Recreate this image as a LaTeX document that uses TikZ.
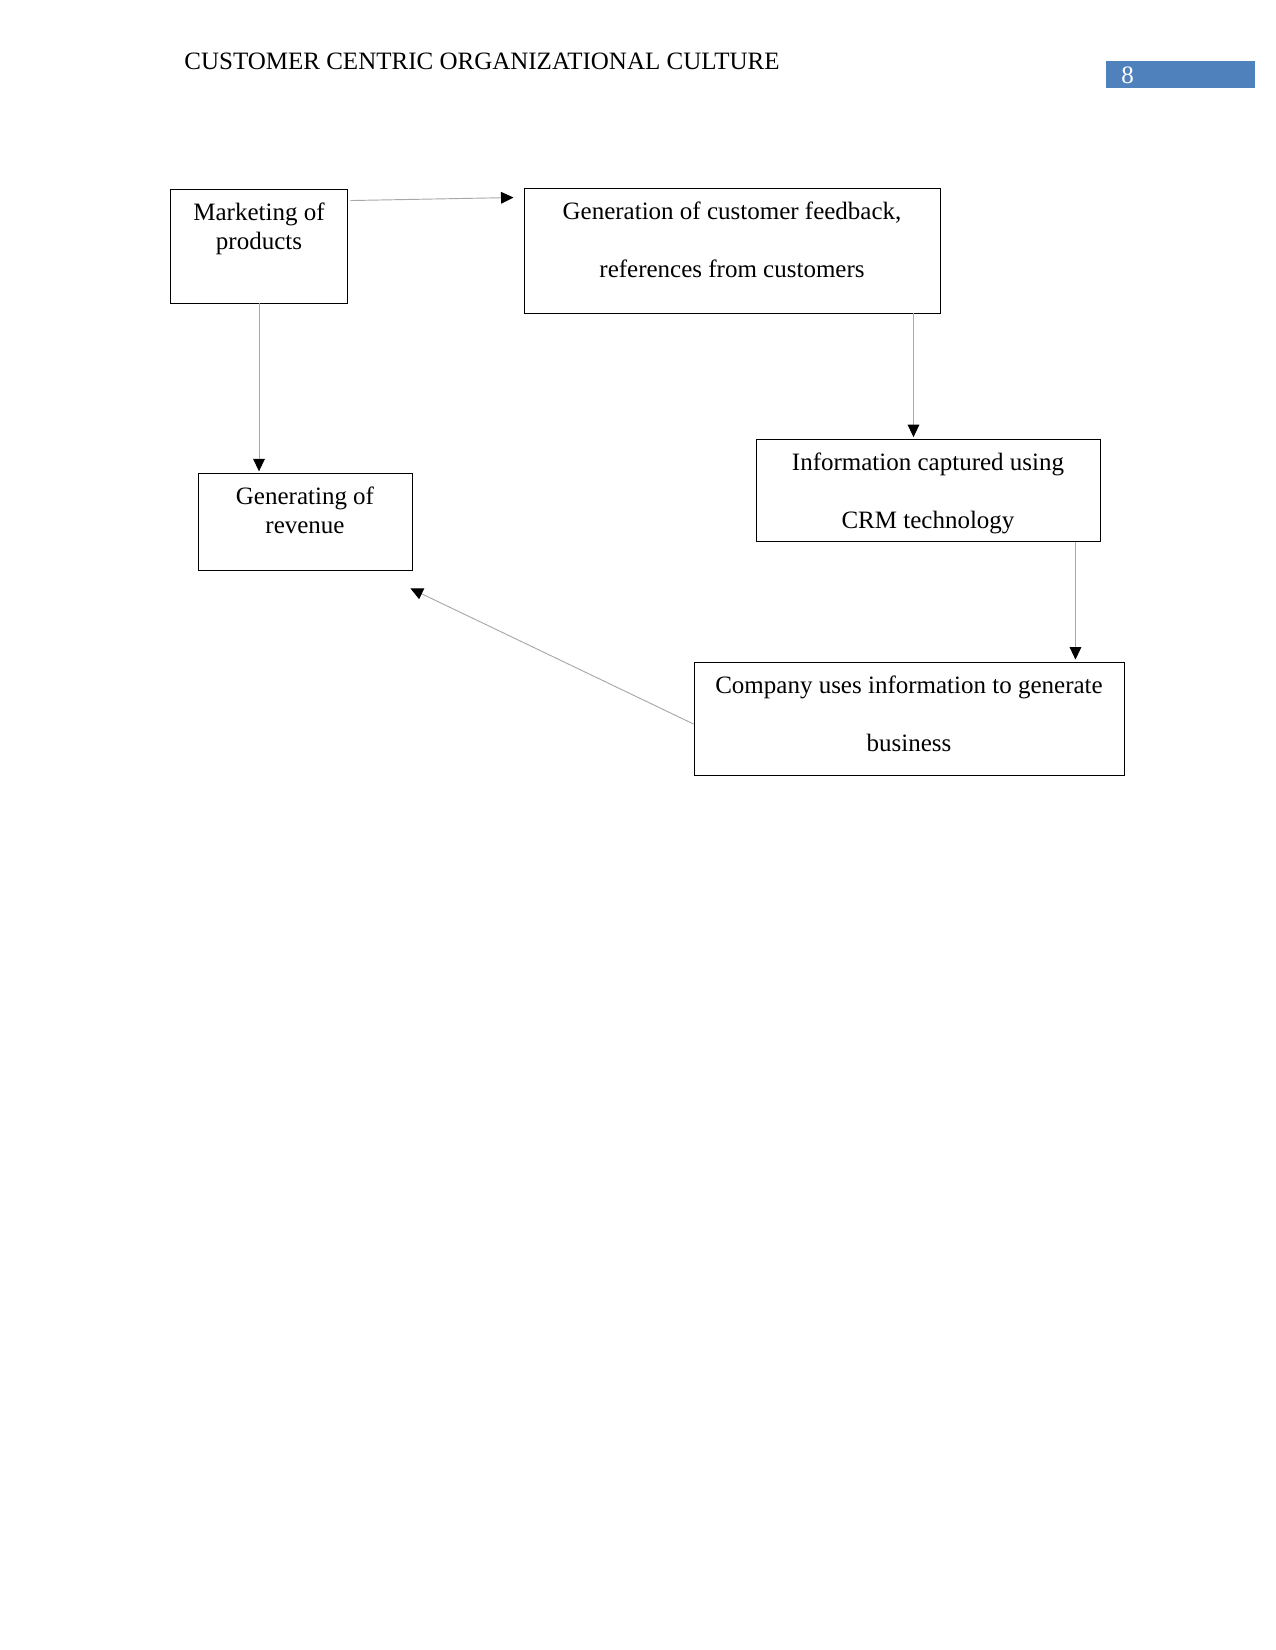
\documentclass[tikz,border=0pt]{standalone}
\usepackage{fontspec}
\setmainfont{Liberation Serif}
\usetikzlibrary{arrows.meta,positioning,calc}
\definecolor{cpage}{HTML}{4F81BD}
\definecolor{cline}{HTML}{A8A8A8}
\tikzset{
  ccbox/.style={rectangle, draw=black, line width=0.45pt, inner sep=0pt},
  cctxt/.style={align=flush center, inner sep=0pt, anchor=base},
  ccfl/.style={-{Triangle[length=6pt,width=5.6pt,color=black]}, draw=cline, line width=0.45pt},
  cchead/.style={anchor=base west, inner sep=0pt}
}

\begin{document}
\begin{tikzpicture}[x=0.48pt, y=-0.48pt, font=\fontsize{12pt}{13.8pt}\selectfont]
\useasboundingbox (0,0) rectangle (1275,1650);

% header
\node[cchead] (title) at (184,70) {CUSTOMER CENTRIC ORGANIZATIONAL CULTURE};
\node[rectangle, fill=cpage, minimum width=71.5pt, minimum height=13pt,
      inner sep=0pt, anchor=north west] (pgbox) at (1106,61) {};
\node[cchead, text=white] (pgnum) at (1121,84) {8};

% boxes
\node[ccbox, minimum width=85.4pt, minimum height=54.7pt] (mkt) at (259,246) {};
\node[ccbox, minimum width=199.7pt, minimum height=60pt] (gen) at (732,250.5) {};
\node[ccbox, minimum width=102.7pt, minimum height=47pt] (rev) at (305,522) {};
\node[ccbox, minimum width=165.1pt, minimum height=49.4pt] (info) at (928,490.5) {};
\node[ccbox, minimum width=206.4pt, minimum height=53.8pt] (comp) at (909,719) {};

% texts
\node[cctxt, text width=85pt] (mktT) at ($(mkt.north)+(0,32)$) {Marketing of\\products};
\node[cctxt, text width=199pt] (genT) at ($(gen.north)+(0,31.7)$)
 {Generation of customer feedback,\\[14pt]references from customers};
\node[cctxt, text width=102pt] (revT) at ($(rev.north)+(0,32.4)$) {Generating of\\revenue};
\node[cctxt, text width=165pt] (infoT) at ($(info.north)+(0,32)$)
 {Information captured using\\[14pt]CRM technology};
\node[cctxt, text width=206pt] (compT) at ($(comp.north)+(0,31.5)$)
 {Company uses information to generate\\[14pt]business};

% connector ends
\coordinate (a1s) at ($(mkt.north east)+(2,12)$);
\coordinate (a1e) at ($(gen.north west)+(-10,10)$);
\coordinate (a3s) at ($(gen.south east)+(-27,0)$);
\coordinate (a4s) at ($(info.south east)+(-25,0)$);
\coordinate (a5s) at ($(comp.west)+(0,5)$);
\coordinate (a5e) at ($(rev.south east)+(-2,17)$);

\draw[ccfl] (a1s) -- (a1e);
\draw[ccfl, shorten >=0.6pt] (mkt.south) -- (mkt.south |- rev.north);
\draw[ccfl, shorten >=0.7pt] (a3s) -- (a3s |- info.north);
\draw[ccfl, shorten >=1.4pt] (a4s) -- (a4s |- comp.north);
\draw[ccfl] (a5s) -- (a5e);

\end{tikzpicture}
\end{document}
